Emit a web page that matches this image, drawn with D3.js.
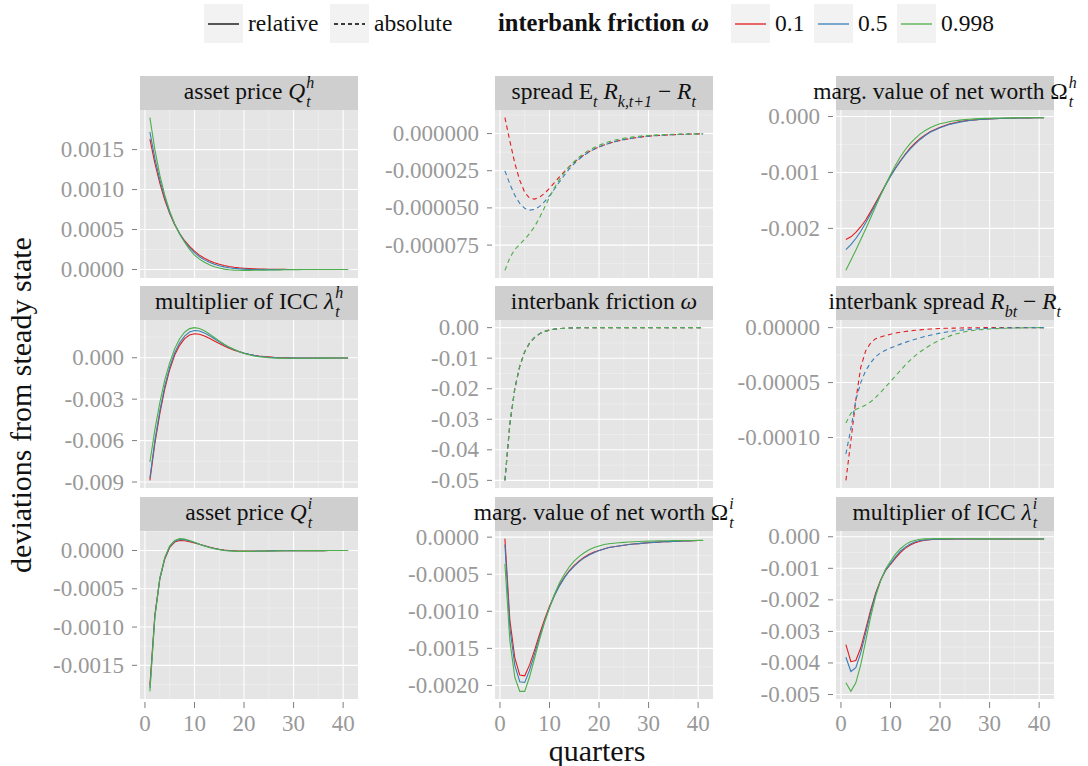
<!DOCTYPE html>
<html>
<head>
<meta charset="utf-8">
<script src="https://cdn.jsdelivr.net/npm/d3@7"></script>
<style>
  body { margin: 0; background: #fff; }
  svg { display: block; font-family: "Liberation Serif", "DejaVu Serif", serif; }
  text { white-space: pre; }
</style>
</head>
<body>
<svg id="chart" width="1088" height="766"></svg>
<script>
// ---------------------------------------------------------------------------
// impulse responses, quarters 1..41, one series per interbank friction level
// ---------------------------------------------------------------------------
const quarters = d3.range(1, 42);
const omegaLevels = ['0.1', '0.5', '0.998'];
const omegaColors = ['#E41A1C', '#377EB8', '#4DAF4A'];

// asset price Q^h
const qh01 = [0.00163, 0.00133, 0.00108, 0.00087, 0.00070, 0.00056, 0.00045, 0.00036, 0.00029, 0.00023,
  0.00018, 0.00014, 0.00011, 0.000085, 0.000065, 0.00005, 0.000038, 0.000028, 0.00002, 0.000015,
  0.000011, 0.000008, 0.000006, 0.000004, 0.000003, 0.000002, 0.000001, 0.000001, 0, 0,
  0, 0, 0, 0, 0, 0, 0, 0, 0, 0, 0];
const qh05 = [0.00172, 0.00139, 0.00112, 0.00090, 0.00071, 0.00057, 0.00045, 0.00035, 0.00027, 0.00021,
  0.00016, 0.00012, 0.00009, 0.000065, 0.000047, 0.000033, 0.000022, 0.000014, 0.000008, 0.000004,
  0.000001, 0, -0.000001, -0.000002, -0.000002, -0.000002, -0.000002, -0.000001, -0.000001, -0.000001,
  0, 0, 0, 0, 0, 0, 0, 0, 0, 0, 0];
const qh0998 = [0.00190, 0.00150, 0.00118, 0.00093, 0.00073, 0.00057, 0.00044, 0.00034, 0.00025, 0.00018,
  0.00013, 0.00009, 0.00006, 0.000035, 0.000018, 0.000005, -0.000003, -0.000008, -0.00001, -0.000011,
  -0.000011, -0.00001, -0.000009, -0.000008, -0.000007, -0.000006, -0.000005, -0.000004, -0.000003, -0.000002,
  -0.000002, -0.000001, -0.000001, 0, 0, 0, 0, 0, 0, 0, 0];

// spread E_t R_{k,t+1} - R_t
const spread01 = [0.0000107, -0.000005, -0.000020, -0.0000315, -0.0000395, -0.0000435, -0.0000441, -0.0000428, -0.0000402, -0.0000368,
  -0.000033, -0.0000292, -0.0000256, -0.0000223, -0.0000193, -0.0000166, -0.0000143, -0.0000122, -0.0000105, -0.000009,
  -0.0000077, -0.0000066, -0.0000056, -0.0000048, -0.0000041, -0.0000035, -0.000003, -0.0000025, -0.0000021, -0.0000018,
  -0.0000015, -0.0000013, -0.0000011, -0.0000009, -0.0000008, -0.0000006, -0.0000005, -0.0000004, -0.0000003, -0.0000002, -0.0000002];
const spread05 = [-0.0000251, -0.000034, -0.0000415, -0.000047, -0.0000503, -0.0000515, -0.000051, -0.000049, -0.0000458, -0.0000418,
  -0.0000373, -0.0000326, -0.000028, -0.0000238, -0.0000202, -0.0000171, -0.0000145, -0.0000123, -0.0000105, -0.000009,
  -0.0000077, -0.0000066, -0.0000056, -0.0000048, -0.0000041, -0.0000035, -0.000003, -0.0000025, -0.0000021, -0.0000018,
  -0.0000015, -0.0000013, -0.0000011, -0.0000009, -0.0000008, -0.0000006, -0.0000005, -0.0000004, -0.0000003, -0.0000002, -0.0000002];
const spread0998 = [-0.000092, -0.0000835, -0.000078, -0.0000745, -0.000071, -0.0000672, -0.0000625, -0.0000565, -0.0000497, -0.0000428,
  -0.0000365, -0.000031, -0.0000262, -0.0000222, -0.0000188, -0.0000158, -0.0000133, -0.0000112, -0.0000094, -0.0000079,
  -0.0000066, -0.0000055, -0.0000046, -0.0000038, -0.0000032, -0.0000027, -0.0000022, -0.0000018, -0.0000015, -0.0000013,
  -0.0000011, -0.0000009, -0.0000007, -0.0000006, -0.0000005, -0.0000004, -0.0000003, -0.0000003, -0.0000002, -0.0000002, -0.0000001];

// marginal value of net worth Omega^h
const omh01 = [-0.00220, -0.00215, -0.00207, -0.00197, -0.00185, -0.00170, -0.00154, -0.00138, -0.00122, -0.00106,
  -0.00092, -0.00079, -0.00067, -0.00056, -0.00047, -0.00039, -0.00033, -0.00027, -0.00023, -0.00019,
  -0.00016, -0.00013, -0.00011, -0.00009, -0.000078, -0.000068, -0.00006, -0.000053, -0.000047, -0.000042,
  -0.000038, -0.000035, -0.000032, -0.00003, -0.000028, -0.000026, -0.000025, -0.000024, -0.000023, -0.000022, -0.000021];
const omh05 = [-0.00238, -0.00229, -0.00218, -0.00205, -0.00190, -0.00174, -0.00157, -0.00140, -0.00123, -0.00107,
  -0.00093, -0.00080, -0.00068, -0.00058, -0.00049, -0.00041, -0.00034, -0.00028, -0.00024, -0.0002,
  -0.00017, -0.00014, -0.00012, -0.0001, -0.000085, -0.000072, -0.000062, -0.000054, -0.000047, -0.000042,
  -0.000038, -0.000035, -0.000032, -0.00003, -0.000028, -0.000026, -0.000025, -0.000024, -0.000023, -0.000022, -0.000021];
const omh0998 = [-0.00275, -0.00257, -0.00239, -0.00220, -0.00201, -0.00181, -0.00161, -0.00141, -0.00122, -0.00104,
  -0.00087, -0.00072, -0.00059, -0.00048, -0.00039, -0.00031, -0.00025, -0.0002, -0.00016, -0.00013,
  -0.00011, -0.00009, -0.000075, -0.000064, -0.000055, -0.000048, -0.000042, -0.000038, -0.000034, -0.000031,
  -0.000029, -0.000027, -0.000026, -0.000025, -0.000024, -0.000023, -0.000022, -0.000022, -0.000021, -0.000021, -0.00002];

// multiplier of ICC lambda^h
const lamh01 = [-0.00888, -0.00620, -0.00405, -0.00225, -0.00085, 0.00020, 0.00090, 0.00138, 0.00165, 0.00174,
  0.00170, 0.00158, 0.00141, 0.00122, 0.00103, 0.00085, 0.00069, 0.00055, 0.00043, 0.00033,
  0.00025, 0.00018, 0.00013, 0.00009, 0.00006, 0.00003, 0.00001, 0, -0.00001, -0.000015,
  -0.00002, -0.00002, -0.00002, -0.00002, -0.00002, -0.00002, -0.00002, -0.00002, -0.00002, -0.00002, -0.00002];
const lamh05 = [-0.00871, -0.00600, -0.00385, -0.00205, -0.00068, 0.00036, 0.00108, 0.00157, 0.00186, 0.00197,
  0.00194, 0.00180, 0.00160, 0.00138, 0.00115, 0.00094, 0.00075, 0.00059, 0.00045, 0.00034,
  0.00025, 0.00017, 0.00011, 0.00007, 0.00003, 0.00001, -0.00001, -0.00002, -0.000025, -0.00003,
  -0.00003, -0.00003, -0.00003, -0.000028, -0.000026, -0.000025, -0.000024, -0.000023, -0.000022, -0.000021, -0.00002];
const lamh0998 = [-0.00755, -0.00520, -0.00325, -0.00160, -0.00035, 0.00066, 0.00138, 0.00185, 0.00211, 0.00218,
  0.00212, 0.00195, 0.00172, 0.00147, 0.00122, 0.00098, 0.00077, 0.00059, 0.00044, 0.00031,
  0.00021, 0.00013, 0.00007, 0.00003, 0, -0.00002, -0.00003, -0.00004, -0.00004, -0.00004,
  -0.00004, -0.000038, -0.000035, -0.000032, -0.00003, -0.000028, -0.000026, -0.000024, -0.000023, -0.000022, -0.00002];

// interbank friction omega (same path for every level)
const omegaPath = [-0.0500, -0.0316, -0.0199, -0.0126, -0.0079, -0.0050, -0.0032, -0.0020, -0.00126, -0.00079,
  -0.0005, -0.00032, -0.0002, -0.000126, -0.00008, -0.00005, -0.000032, -0.00002, -0.000013, -0.000008,
  -0.000005, -0.000003, -0.000002, -0.000001, -0.000001, 0, 0, 0, 0, 0,
  0, 0, 0, 0, 0, 0, 0, 0, 0, 0, 0];

// interbank spread R_bt - R_t
const ibs01 = [-0.000139, -0.000103, -0.000066, -0.000036, -0.000021, -0.000014, -0.00001, -0.0000085, -0.0000072, -0.000006,
  -0.000005, -0.0000042, -0.0000035, -0.0000029, -0.0000024, -0.000002, -0.0000016, -0.0000013, -0.000001, -0.0000008,
  -0.0000006, -0.0000005, -0.0000004, -0.0000003, -0.0000002, -0.0000002, -0.0000001, -0.0000001, 0, 0,
  0, 0, 0, 0, 0, 0, 0, 0, 0, 0, 0];
const ibs05 = [-0.000115, -0.000092, -0.000066, -0.00005, -0.000039, -0.000032, -0.0000265, -0.000023, -0.0000205, -0.0000185,
  -0.0000167, -0.000015, -0.0000134, -0.0000119, -0.0000105, -0.0000092, -0.000008, -0.0000069, -0.0000059, -0.000005,
  -0.0000042, -0.0000035, -0.0000029, -0.0000024, -0.000002, -0.0000016, -0.0000013, -0.000001, -0.0000008, -0.0000006,
  -0.0000005, -0.0000004, -0.0000003, -0.0000002, -0.0000002, -0.0000001, -0.0000001, 0, 0, 0, 0];
const ibs0998 = [-0.0000867, -0.000078, -0.0000745, -0.0000725, -0.0000705, -0.0000675, -0.0000635, -0.000059, -0.000054, -0.000049,
  -0.000044, -0.000039, -0.000034, -0.0000295, -0.0000255, -0.000022, -0.000019, -0.000016, -0.0000135, -0.0000112,
  -0.0000092, -0.0000075, -0.000006, -0.0000048, -0.0000038, -0.000003, -0.0000024, -0.0000019, -0.0000015, -0.0000012,
  -0.0000009, -0.0000007, -0.0000005, -0.0000004, -0.0000003, -0.0000002, -0.0000002, -0.0000001, -0.0000001, 0, 0];

// asset price Q^i
const qi01 = [-0.00176, -0.00084, -0.00037, -0.00011, 0.00004, 0.00011, 0.00013, 0.000128, 0.000115, 0.0001,
  0.000082, 0.000063, 0.000045, 0.00003, 0.000017, 0.000007, 0, -0.000004, -0.000007, -0.000008,
  -0.000008, -0.000008, -0.000007, -0.000006, -0.000005, -0.000004, -0.000004, -0.000003, -0.000003, -0.000002,
  -0.000002, -0.000002, -0.000001, -0.000001, -0.000001, -0.000001, 0, 0, 0, 0, 0];
const qi05 = [-0.00180, -0.00086, -0.00037, -0.0001, 0.00005, 0.00012, 0.000145, 0.000142, 0.000124, 0.000104,
  0.000082, 0.000061, 0.000043, 0.000027, 0.000014, 0.000004, -0.000003, -0.000007, -0.000009, -0.00001,
  -0.00001, -0.000009, -0.000008, -0.000007, -0.000006, -0.000005, -0.000004, -0.000003, -0.000003, -0.000002,
  -0.000002, -0.000002, -0.000001, -0.000001, -0.000001, -0.000001, 0, 0, 0, 0, 0];
const qi0998 = [-0.00184, -0.00087, -0.00036, -0.00009, 0.00006, 0.00013, 0.000155, 0.00015, 0.00013, 0.000107,
  0.000083, 0.00006, 0.00004, 0.000024, 0.000011, 0.000001, -0.000005, -0.000009, -0.000011, -0.000011,
  -0.000011, -0.00001, -0.000009, -0.000008, -0.000007, -0.000006, -0.000005, -0.000004, -0.000003, -0.000003,
  -0.000002, -0.000002, -0.000001, -0.000001, -0.000001, -0.000001, 0, 0, 0, 0, 0];

// marginal value of net worth Omega^i
const omi01 = [-0.00002, -0.00112, -0.00163, -0.00186, -0.00187, -0.00172, -0.00152, -0.00131, -0.00111, -0.00093,
  -0.00078, -0.00065, -0.00054, -0.00045, -0.00038, -0.00032, -0.00027, -0.00023, -0.0002, -0.00018,
  -0.00016, -0.00014, -0.00013, -0.00012, -0.00011, -0.0001, -0.000093, -0.000087, -0.000081, -0.000076,
  -0.000071, -0.000067, -0.000063, -0.00006, -0.000057, -0.000054, -0.000052, -0.00005, -0.000048, -0.000046, -0.000045];
const omi05 = [-0.0001, -0.00122, -0.00173, -0.00195, -0.00196, -0.00179, -0.00157, -0.00135, -0.00114, -0.00095,
  -0.00079, -0.00066, -0.00055, -0.00046, -0.00039, -0.00033, -0.00028, -0.00024, -0.00021, -0.00018,
  -0.00016, -0.00014, -0.00013, -0.00012, -0.00011, -0.0001, -0.000093, -0.000087, -0.000081, -0.000076,
  -0.000071, -0.000067, -0.000063, -0.00006, -0.000057, -0.000054, -0.000052, -0.00005, -0.000048, -0.000046, -0.000045];
const omi0998 = [-0.00036, -0.0014, -0.00189, -0.00208, -0.00208, -0.00188, -0.00163, -0.00138, -0.00115, -0.00095,
  -0.00077, -0.00062, -0.0005, -0.0004, -0.00032, -0.00026, -0.00021, -0.00017, -0.00014, -0.00012,
  -0.0001, -0.00009, -0.000082, -0.000076, -0.00007, -0.000066, -0.000062, -0.000059, -0.000056, -0.000054,
  -0.000052, -0.00005, -0.000049, -0.000048, -0.000047, -0.000046, -0.000046, -0.000045, -0.000045, -0.000044, -0.000044];

// multiplier of ICC lambda^i
const lami01 = [-0.00342, -0.00396, -0.00392, -0.00352, -0.00293, -0.00232, -0.00179, -0.00137, -0.00107, -0.00088,
  -0.00068, -0.0005, -0.00036, -0.00026, -0.00019, -0.00014, -0.00011, -0.00009, -0.00008, -0.000077,
  -0.000075, -0.000074, -0.000073, -0.000073, -0.000072, -0.000072, -0.000071, -0.000071, -0.00007, -0.00007,
  -0.00007, -0.00007, -0.00007, -0.00007, -0.00007, -0.00007, -0.00007, -0.00007, -0.00007, -0.00007, -0.00007];
const lami05 = [-0.00382, -0.00427, -0.00415, -0.00368, -0.00305, -0.0024, -0.00183, -0.00139, -0.00106, -0.00085,
  -0.00064, -0.00046, -0.00033, -0.00023, -0.00016, -0.00012, -0.0001, -0.000085, -0.000078, -0.000075,
  -0.000074, -0.000073, -0.000072, -0.000072, -0.000071, -0.000071, -0.00007, -0.00007, -0.00007, -0.00007,
  -0.00007, -0.00007, -0.00007, -0.00007, -0.00007, -0.00007, -0.00007, -0.00007, -0.00007, -0.00007, -0.00007];
const lami0998 = [-0.00463, -0.0049, -0.00463, -0.00405, -0.0033, -0.00254, -0.00189, -0.00139, -0.00102, -0.00078,
  -0.00055, -0.00038, -0.00025, -0.00016, -0.00011, -0.00008, -0.000068, -0.000062, -0.00006, -0.00006,
  -0.00006, -0.000061, -0.000062, -0.000063, -0.000064, -0.000065, -0.000066, -0.000067, -0.000068, -0.000068,
  -0.000069, -0.000069, -0.00007, -0.00007, -0.00007, -0.00007, -0.00007, -0.00007, -0.00007, -0.00007, -0.00007];

// facet titles (math segments), y breaks, decimals of the break labels
const panelTitles = [
  [{ t: 'asset price ' }, { t: 'Q', i: 1 }, { sup: 'h', sub: 't' }],
  [{ t: 'spread E' }, { sub: 't' }, { t: ' ' }, { t: 'R', i: 1 }, { sub: 'k,t+1' }, { t: ' \u2212 ' }, { t: 'R', i: 1 }, { sub: 't' }],
  [{ t: 'marg. value of net worth \u03A9' }, { sup: 'h', sub: 't' }],
  [{ t: 'multiplier of ICC ' }, { t: '\u03BB', i: 1 }, { sup: 'h', sub: 't' }],
  [{ t: 'interbank friction ' }, { t: '\u03C9', i: 1 }],
  [{ t: 'interbank spread ' }, { t: 'R', i: 1 }, { sub: 'bt' }, { t: ' \u2212 ' }, { t: 'R', i: 1 }, { sub: 't' }],
  [{ t: 'asset price ' }, { t: 'Q', i: 1 }, { sup: 'i', sub: 't' }],
  [{ t: 'marg. value of net worth \u03A9' }, { sup: 'i', sub: 't' }],
  [{ t: 'multiplier of ICC ' }, { t: '\u03BB', i: 1 }, { sup: 'i', sub: 't' }]
];
const panelSeries = [
  [qh01, qh05, qh0998], [spread01, spread05, spread0998], [omh01, omh05, omh0998],
  [lamh01, lamh05, lamh0998], [omegaPath, omegaPath, omegaPath], [ibs01, ibs05, ibs0998],
  [qi01, qi05, qi0998], [omi01, omi05, omi0998], [lami01, lami05, lami0998]
];
const panelDashed = [false, true, false, false, true, true, false, false, false];
const panelBreaks = [
  [0, 0.0005, 0.001, 0.0015],
  [0, -0.000025, -0.00005, -0.000075],
  [0, -0.001, -0.002],
  [0, -0.003, -0.006, -0.009],
  [0, -0.01, -0.02, -0.03, -0.04, -0.05],
  [0, -0.00005, -0.0001],
  [0, -0.0005, -0.001, -0.0015],
  [0, -0.0005, -0.001, -0.0015, -0.002],
  [0, -0.001, -0.002, -0.003, -0.004, -0.005]
];
const panelDecimals = [4, 6, 3, 3, 2, 5, 4, 4, 3];
const xBreaks = [0, 10, 20, 30, 40];
const xMinor = [5, 15, 25, 35];

// ---------------------------------------------------------------------------
const svg = d3.select('#chart');
const colX = [140, 495, 836];
const rowY = [110, 320, 531];
const pw = 218, ph = 168, stripH = 34;
const tickCol = '#7f7f7f', labCol = '#999999';

const x = d3.scaleLinear().domain([-1, 43]).range([0, pw]);

// text with super/subscripts, centred on cx
function mathText(parent, segs, cx, baseY, size, weight) {
  const t = parent.append('text').attr('y', baseY)
    .attr('font-size', size).attr('fill', '#111');
  if (weight) t.attr('font-weight', weight);
  const small = size * 0.68;
  const up = -size * 0.45, down = size * 0.32;
  let cur = 0, pad = 0;
  segs.forEach(s => {
    if (s.t !== undefined) {
      const sp = t.append('tspan').attr('dy', -cur).text(s.t);
      if (pad) sp.attr('dx', pad);
      if (s.i) sp.attr('font-style', 'italic');
      cur = 0; pad = 0;
    } else {
      let supLen = 0;
      if (s.sup) {
        const sp = t.append('tspan').attr('font-size', small).attr('font-style', 'italic')
          .attr('dy', up - cur).attr('dx', 1).text(s.sup);
        cur = up;
        supLen = sp.node().getComputedTextLength() + 1;
      }
      if (s.sub) {
        const sb = t.append('tspan').attr('font-size', small).attr('font-style', 'italic')
          .attr('dy', down - cur).text(s.sub);
        if (s.sup) sb.attr('dx', -supLen + 1);
        cur = down;
        const subLen = sb.node().getComputedTextLength();
        pad = s.sup ? Math.max(0, supLen - subLen - 1) : 0;
      }
    }
  });
  const bb = t.node().getBBox();
  t.attr('transform', `translate(${cx - bb.x - bb.width / 2},0)`);
  return t;
}

panelSeries.forEach((series, p) => {
  const col = p % 3, row = Math.floor(p / 3);
  const g = svg.append('g').attr('transform', `translate(${colX[col]},${rowY[row]})`);

  const all = series.flat();
  const [lo, hi] = d3.extent(all);
  const padY = (hi - lo) * 0.05;
  const y = d3.scaleLinear().domain([lo - padY, hi + padY]).range([ph, 0]);

  g.append('rect').attr('width', pw).attr('height', ph).attr('fill', '#E5E5E5');

  // minor grid
  const brk = panelBreaks[p];
  const step = Math.abs(brk[1] - brk[0]);
  const dom = y.domain();
  const yMinor = [];
  for (let k = Math.floor(dom[0] / step) - 1; k <= Math.ceil(dom[1] / step); k++) {
    const v = (k + 0.5) * step;
    if (v > dom[0] && v < dom[1]) yMinor.push(v);
  }
  g.selectAll('.ymin').data(yMinor).join('line')
    .attr('x1', 0).attr('x2', pw).attr('y1', d => y(d)).attr('y2', d => y(d))
    .attr('stroke', '#F2F2F2').attr('stroke-width', 0.6);
  g.selectAll('.xmin').data(xMinor).join('line')
    .attr('x1', d => x(d)).attr('x2', d => x(d)).attr('y1', 0).attr('y2', ph)
    .attr('stroke', '#F2F2F2').attr('stroke-width', 0.6);

  // major grid
  g.selectAll('.ymaj').data(brk).join('line')
    .attr('x1', 0).attr('x2', pw).attr('y1', d => y(d)).attr('y2', d => y(d))
    .attr('stroke', '#fff').attr('stroke-width', 1.1);
  g.selectAll('.xmaj').data(xBreaks).join('line')
    .attr('x1', d => x(d)).attr('x2', d => x(d)).attr('y1', 0).attr('y2', ph)
    .attr('stroke', '#fff').attr('stroke-width', 1.1);

  // strip
  g.append('rect').attr('y', -stripH).attr('width', pw).attr('height', stripH).attr('fill', '#CFCFCF');
  mathText(g, panelTitles[p], pw / 2, -11, 23.5);

  // y axis
  const fmt = d3.format(`.${panelDecimals[p]}f`);
  g.selectAll('.yt').data(brk).join('line')
    .attr('x1', -8).attr('x2', -3).attr('y1', d => y(d)).attr('y2', d => y(d))
    .attr('stroke', tickCol).attr('stroke-width', 1);
  g.selectAll('.yl').data(brk).join('text')
    .attr('x', -16).attr('y', d => y(d) + 7.5)
    .attr('text-anchor', 'end').attr('font-size', 23).attr('fill', labCol)
    .text(d => fmt(d).replace('\u2212', '-'));

  // x axis on the bottom row only
  if (row === 2) {
    g.selectAll('.xt').data(xBreaks).join('line')
      .attr('x1', d => x(d)).attr('x2', d => x(d)).attr('y1', ph + 3).attr('y2', ph + 9)
      .attr('stroke', tickCol).attr('stroke-width', 1);
    g.selectAll('.xl').data(xBreaks).join('text')
      .attr('x', d => x(d)).attr('y', ph + 32)
      .attr('text-anchor', 'middle').attr('font-size', 23).attr('fill', labCol)
      .text(d => d);
  }

  // lines
  const line = d3.line().x((d, i) => x(quarters[i])).y(d => y(d));
  series.forEach((s, k) => {
    g.append('path').datum(s)
      .attr('d', line)
      .attr('fill', 'none')
      .attr('stroke', omegaColors[k])
      .attr('stroke-width', 1.1)
      .attr('stroke-dasharray', panelDashed[p] ? '4.5,3.5' : null);
  });
});

// axis titles
svg.append('text')
  .attr('transform', 'translate(31,405) rotate(-90)')
  .attr('text-anchor', 'middle').attr('font-size', 30).attr('fill', '#111')
  .text('deviations from steady state');
svg.append('text')
  .attr('x', 597).attr('y', 761)
  .attr('text-anchor', 'middle').attr('font-size', 30).attr('fill', '#111')
  .text('quarters');

// legend
const legend = svg.append('g');
const keySize = 39;
const typeKeys = [{ x: 204, label: 'relative', dash: null }, { x: 330, label: 'absolute', dash: '4,3' }];
typeKeys.forEach(k => {
  legend.append('rect').attr('x', k.x).attr('y', 4).attr('width', keySize).attr('height', keySize).attr('fill', '#F2F2F2');
  legend.append('line').attr('x1', k.x + 4).attr('x2', k.x + keySize - 4).attr('y1', 24).attr('y2', 24)
    .attr('stroke', '#000').attr('stroke-width', 1.3).attr('stroke-dasharray', k.dash);
  legend.append('text').attr('x', k.x + 44).attr('y', 31).attr('font-size', 23.5).attr('fill', '#111').text(k.label);
});
const lt = legend.append('text').attr('x', 498).attr('y', 31).attr('font-size', 24.5)
  .attr('font-weight', 'bold').attr('fill', '#111');
lt.append('tspan').text('interbank friction ');
lt.append('tspan').attr('font-style', 'italic').text('\u03C9');

const omegaKeyX = [731, 814, 897];
omegaLevels.forEach((lv, k) => {
  const kx = omegaKeyX[k];
  legend.append('rect').attr('x', kx).attr('y', 4).attr('width', keySize).attr('height', keySize).attr('fill', '#F2F2F2');
  legend.append('line').attr('x1', kx + 4).attr('x2', kx + keySize - 4).attr('y1', 24).attr('y2', 24)
    .attr('stroke', omegaColors[k]).attr('stroke-width', 1.3);
  legend.append('text').attr('x', kx + 44).attr('y', 31).attr('font-size', 23.5).attr('fill', '#111').text(lv);
});
</script>
</body>
</html>
